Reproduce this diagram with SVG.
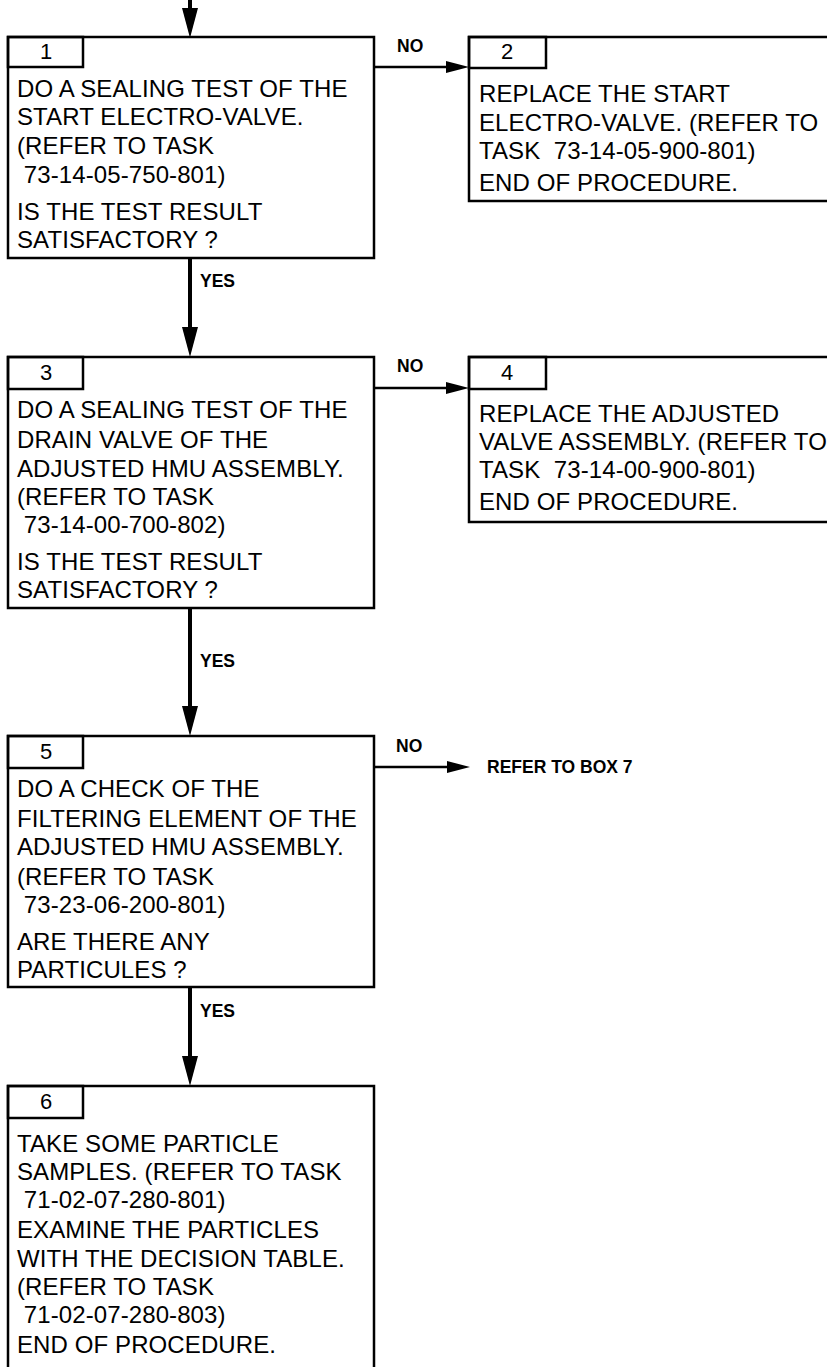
<svg xmlns="http://www.w3.org/2000/svg" width="827" height="1367" viewBox="0 0 827 1367">
<style>
  .box { fill: #ffffff; stroke: #000000; stroke-width: 2.5; }
  .tab { fill: none; stroke: #000000; stroke-width: 2.5; }
  .t { font-family: "Liberation Sans", Arial, sans-serif; font-size: 24px; letter-spacing: 0.1px; fill: #000000; white-space: pre; }
  .num { font-family: "Liberation Sans", Arial, sans-serif; font-size: 22px; fill: #000000; text-anchor: middle; }
  .lbl { font-family: "Liberation Sans", Arial, sans-serif; font-size: 17.5px; font-weight: bold; fill: #000000; }
  .vline { stroke: #000000; stroke-width: 4; fill: none; }
  .hline { stroke: #000000; stroke-width: 2.5; fill: none; }
</style>
<defs>
  <marker id="arrV" markerUnits="userSpaceOnUse" markerWidth="30" markerHeight="16" refX="0" refY="8" orient="auto" viewBox="0 0 30 16">
    <path d="M0,0 L30,8 L0,16 Z" fill="#000000"/>
  </marker>
  <marker id="arrH" markerUnits="userSpaceOnUse" markerWidth="23" markerHeight="12" refX="0" refY="6" orient="auto" viewBox="0 0 23 12">
    <path d="M0,0 L23,6 L0,12 Z" fill="#000000"/>
  </marker>
</defs>
<rect width="827" height="1367" fill="#ffffff"/>

<g id="connectors">
  <line class="vline" x1="190" y1="0" x2="190" y2="8" marker-end="url(#arrV)"/>
  <line class="vline" x1="190" y1="258" x2="190" y2="327" marker-end="url(#arrV)"/>
  <line class="vline" x1="190" y1="608" x2="190" y2="706" marker-end="url(#arrV)"/>
  <line class="vline" x1="190" y1="987" x2="190" y2="1056" marker-end="url(#arrV)"/>
  <line class="hline" x1="374" y1="67" x2="446" y2="67" marker-end="url(#arrH)"/>
  <line class="hline" x1="374" y1="388" x2="446" y2="388" marker-end="url(#arrH)"/>
  <line class="hline" x1="374" y1="767" x2="447" y2="767" marker-end="url(#arrH)"/>
  <text class="lbl" x="200" y="287">YES</text>
  <text class="lbl" x="200" y="667">YES</text>
  <text class="lbl" x="200" y="1017">YES</text>
  <text class="lbl" x="397" y="52">NO</text>
  <text class="lbl" x="397" y="372">NO</text>
  <text class="lbl" x="396" y="752">NO</text>
  <text class="lbl" x="487" y="773">REFER TO BOX 7</text>
</g>

<g id="box1">
  <rect class="box" x="8" y="37" width="366" height="221"/>
  <rect class="tab" x="8" y="37" width="75" height="30"/>
  <text class="num" x="46" y="59">1</text>
  <text class="t" x="17" y="97">DO A SEALING TEST OF THE</text>
  <text class="t" x="17" y="125">START ELECTRO-VALVE.</text>
  <text class="t" x="17" y="154">(REFER TO TASK</text>
  <text class="t" x="17" y="183"> 73-14-05-750-801)</text>
  <text class="t" x="17" y="220">IS THE TEST RESULT</text>
  <text class="t" x="17" y="248">SATISFACTORY ?</text>
</g>

<g id="box2">
  <rect class="box" x="469" y="37" width="380" height="164"/>
  <rect class="tab" x="469" y="37" width="77" height="31"/>
  <text class="num" x="507" y="59">2</text>
  <text class="t" x="479" y="102">REPLACE THE START</text>
  <text class="t" x="479" y="131">ELECTRO-VALVE. (REFER TO</text>
  <text class="t" x="479" y="159">TASK  73-14-05-900-801)</text>
  <text class="t" x="479" y="191">END OF PROCEDURE.</text>
</g>

<g id="box3">
  <rect class="box" x="8" y="357" width="366" height="251"/>
  <rect class="tab" x="8" y="357" width="75" height="32"/>
  <text class="num" x="46" y="380">3</text>
  <text class="t" x="17" y="418">DO A SEALING TEST OF THE</text>
  <text class="t" x="17" y="448">DRAIN VALVE OF THE</text>
  <text class="t" x="17" y="477">ADJUSTED HMU ASSEMBLY.</text>
  <text class="t" x="17" y="505">(REFER TO TASK</text>
  <text class="t" x="17" y="533"> 73-14-00-700-802)</text>
  <text class="t" x="17" y="570">IS THE TEST RESULT</text>
  <text class="t" x="17" y="598">SATISFACTORY ?</text>
</g>

<g id="box4">
  <rect class="box" x="469" y="357" width="380" height="165"/>
  <rect class="tab" x="469" y="357" width="77" height="32"/>
  <text class="num" x="507" y="380">4</text>
  <text class="t" x="479" y="422">REPLACE THE ADJUSTED</text>
  <text class="t" x="479" y="450">VALVE ASSEMBLY. (REFER TO</text>
  <text class="t" x="479" y="478">TASK  73-14-00-900-801)</text>
  <text class="t" x="479" y="510">END OF PROCEDURE.</text>
</g>

<g id="box5">
  <rect class="box" x="8" y="736" width="366" height="251"/>
  <rect class="tab" x="8" y="736" width="75" height="32"/>
  <text class="num" x="46" y="759">5</text>
  <text class="t" x="17" y="797">DO A CHECK OF THE</text>
  <text class="t" x="17" y="827">FILTERING ELEMENT OF THE</text>
  <text class="t" x="17" y="855">ADJUSTED HMU ASSEMBLY.</text>
  <text class="t" x="17" y="885">(REFER TO TASK</text>
  <text class="t" x="17" y="913"> 73-23-06-200-801)</text>
  <text class="t" x="17" y="950">ARE THERE ANY</text>
  <text class="t" x="17" y="978">PARTICULES ?</text>
</g>

<g id="box6">
  <rect class="box" x="8" y="1086" width="366" height="300"/>
  <rect class="tab" x="8" y="1086" width="75" height="32"/>
  <text class="num" x="46" y="1109">6</text>
  <text class="t" x="17" y="1152">TAKE SOME PARTICLE</text>
  <text class="t" x="17" y="1180">SAMPLES. (REFER TO TASK</text>
  <text class="t" x="17" y="1208"> 71-02-07-280-801)</text>
  <text class="t" x="17" y="1238">EXAMINE THE PARTICLES</text>
  <text class="t" x="17" y="1267">WITH THE DECISION TABLE.</text>
  <text class="t" x="17" y="1295">(REFER TO TASK</text>
  <text class="t" x="17" y="1323"> 71-02-07-280-803)</text>
  <text class="t" x="17" y="1353">END OF PROCEDURE.</text>
</g>
</svg>
